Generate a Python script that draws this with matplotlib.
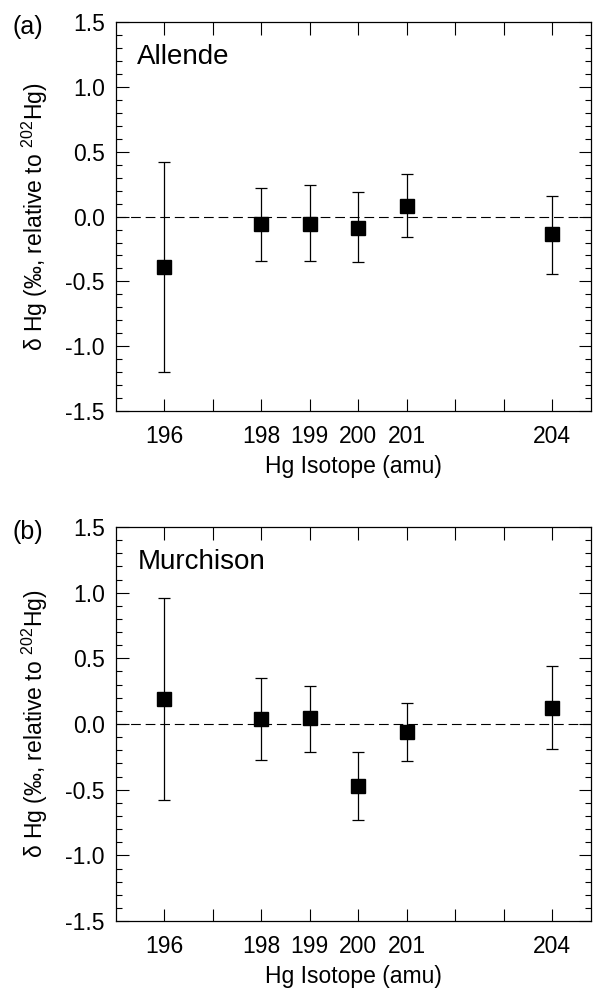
import matplotlib
matplotlib.use("Agg")
import matplotlib.pyplot as plt
from matplotlib.ticker import MultipleLocator, FixedLocator, FormatStrFormatter

plt.rcParams["font.family"] = ["Liberation Sans", "DejaVu Sans"]
plt.rcParams["mathtext.fontset"] = "custom"
plt.rcParams["mathtext.rm"] = "Liberation Sans"
plt.rcParams["mathtext.it"] = "Liberation Sans:italic"
plt.rcParams["lines.scale_dashes"] = False

# isotope masses
isotopes = [196, 198, 199, 200, 201, 204]
tick_labels = ["196", "", "198", "199", "200", "201", "", "", "204"]

# panel (a) Allende
allende = [-0.39, -0.06, -0.055, -0.085, 0.085, -0.135]
allende_hi = [0.42, 0.22, 0.24, 0.19, 0.33, 0.16]
allende_lo = [-1.20, -0.34, -0.34, -0.35, -0.16, -0.44]

# panel (b) Murchison
murchison = [0.19, 0.035, 0.045, -0.47, -0.06, 0.125]
murchison_hi = [0.96, 0.35, 0.29, -0.21, 0.16, 0.44]
murchison_lo = [-0.58, -0.27, -0.21, -0.73, -0.28, -0.19]

panels = [
    ("(a)", "Allende", allende, allende_hi, allende_lo, [0.193, 0.588, 0.790, 0.390]),
    ("(b)", "Murchison", murchison, murchison_hi, murchison_lo, [0.193, 0.077, 0.790, 0.395]),
]

fig = plt.figure(figsize=(6.01, 9.98), dpi=100)

for tag, name, vals, hi, lo, rect in panels:
    ax = fig.add_axes(rect)
    yerr = [[v - l for v, l in zip(vals, lo)], [h - v for v, h in zip(vals, hi)]]

    ax.axhline(0, color="black", lw=0.8, dashes=(7, 3.5), zorder=1)
    ax.errorbar(isotopes, vals, yerr=yerr, fmt="s", color="black",
                ms=10, elinewidth=0.9, capsize=4.3, capthick=0.9, zorder=3)

    ax.set_xlim(195, 204.8)
    ax.set_ylim(-1.5, 1.5)

    ax.xaxis.set_major_locator(FixedLocator(list(range(196, 205))))
    ax.set_xticklabels(tick_labels)
    ax.yaxis.set_major_locator(MultipleLocator(0.5))
    ax.yaxis.set_minor_locator(MultipleLocator(0.1))
    ax.yaxis.set_major_formatter(FormatStrFormatter("%.1f"))

    ax.tick_params(which="both", direction="in", top=True, right=True,
                   labelsize=16.5, width=0.8)
    ax.tick_params(which="major", length=9)
    ax.tick_params(axis="x", which="major", pad=10)
    ax.tick_params(axis="y", which="major", pad=8)
    ax.tick_params(which="minor", length=4.5)
    for s in ax.spines.values():
        s.set_linewidth(0.9)

    ax.set_xlabel("Hg Isotope (amu)", fontsize=16.5, labelpad=5)
    ax.set_ylabel("δ Hg (‰, relative to $^{202}$Hg)", fontsize=16.5, labelpad=11)

    ax.text(0.045, 0.91, name, transform=ax.transAxes, fontsize=20, va="center")
    ax.text(-0.219, 0.987, tag, transform=ax.transAxes, fontsize=18,
            va="center", ha="left")

fig.savefig("out.png", dpi=100)
